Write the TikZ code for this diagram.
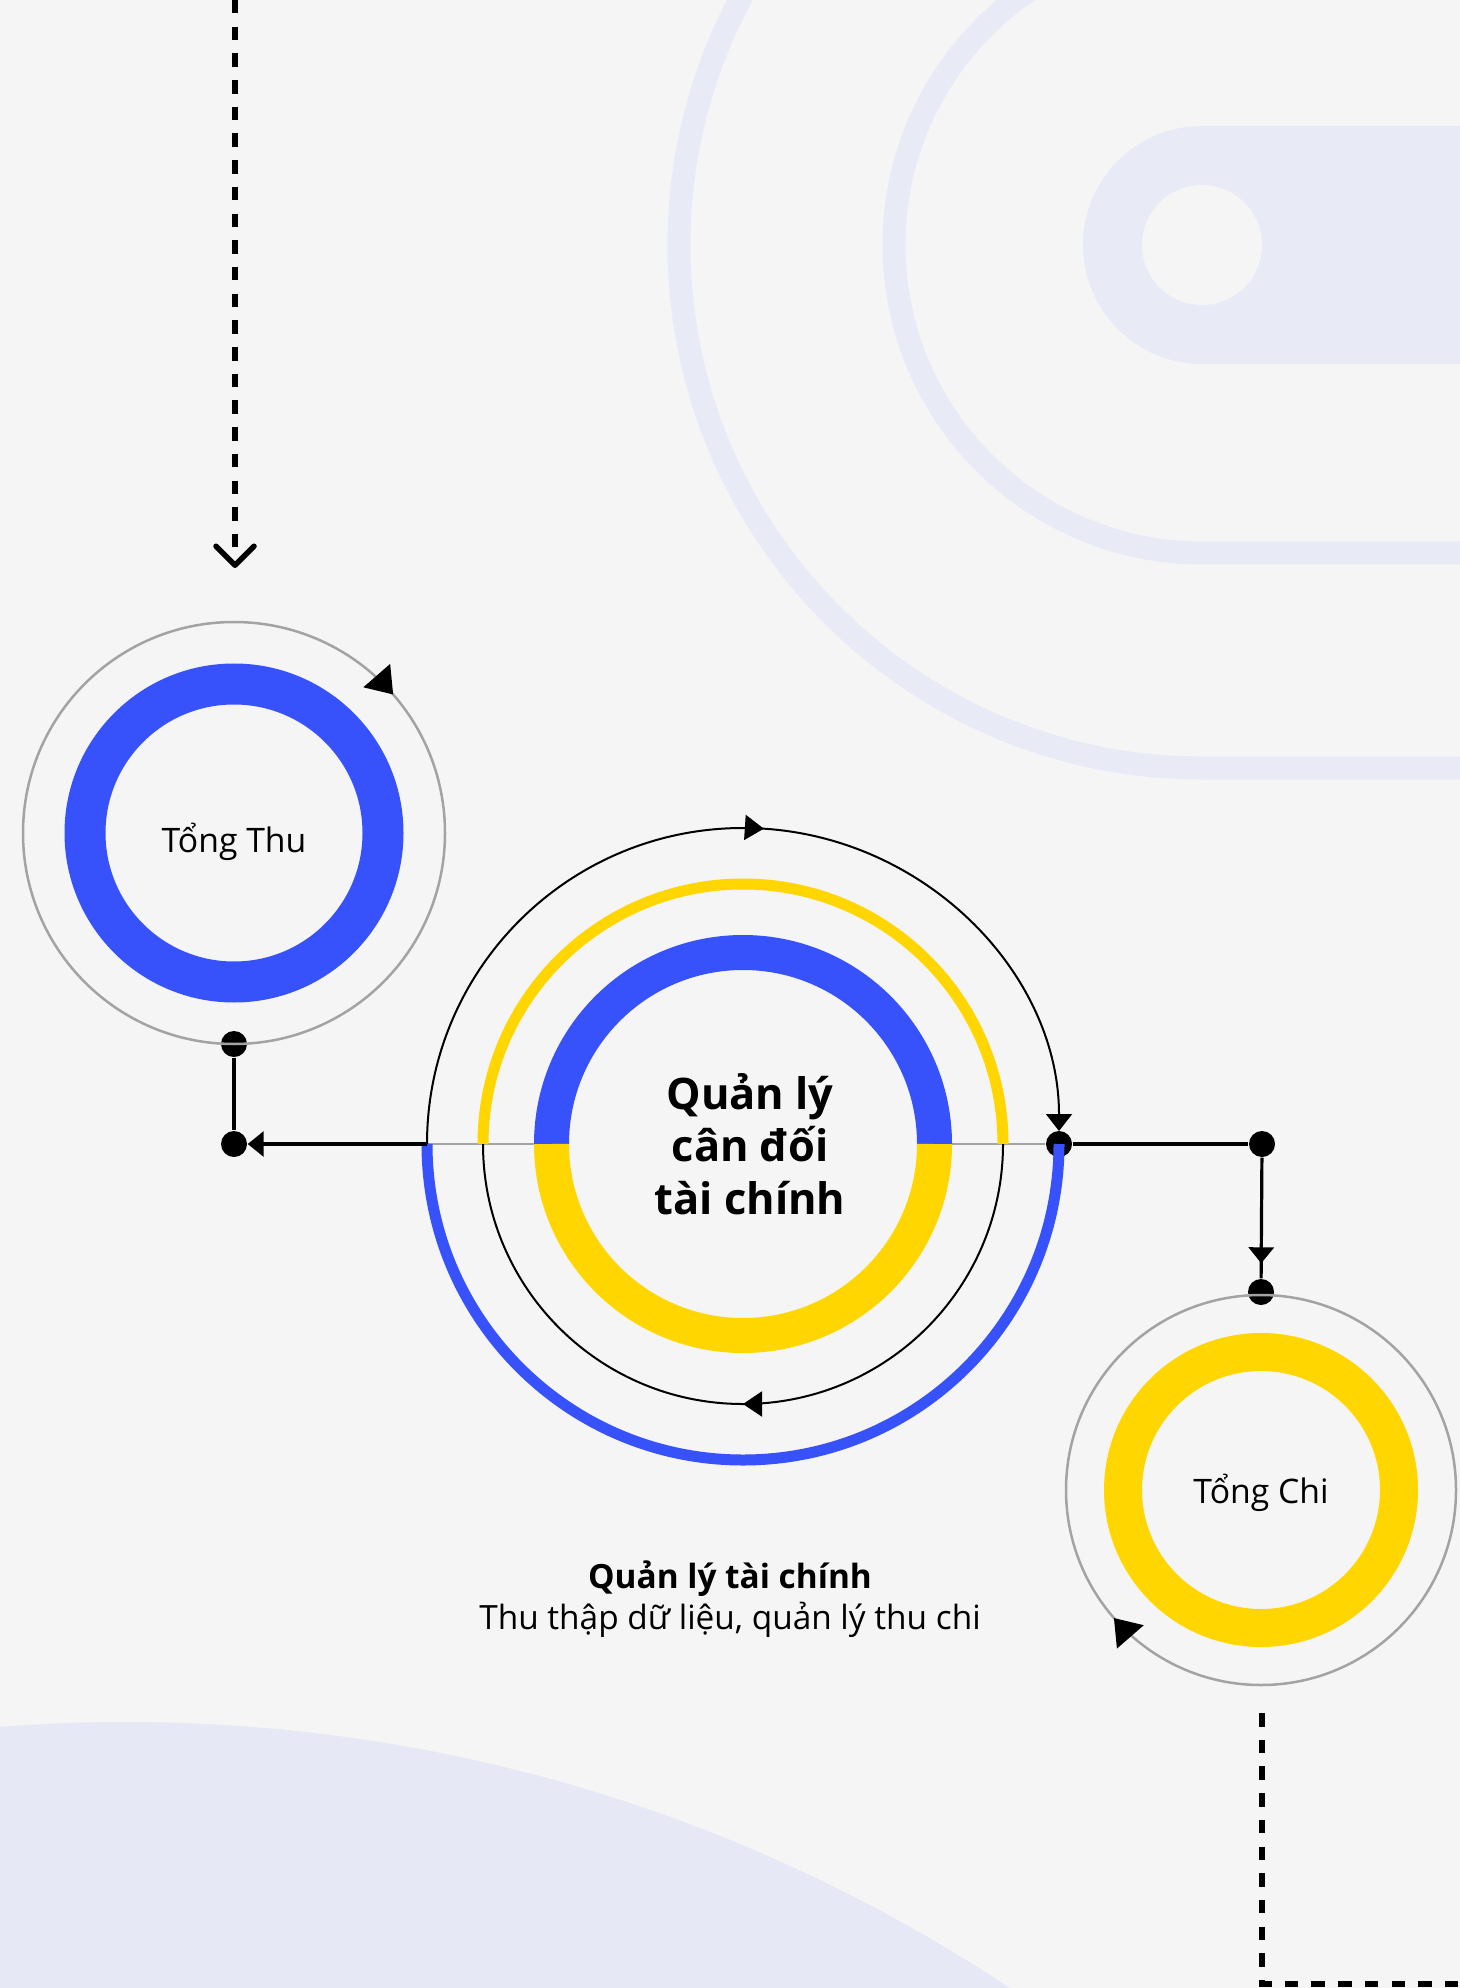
\documentclass[tikz,border=0pt]{standalone}
\usepackage{fontspec}
\setmainfont{Open Sans}
\usetikzlibrary{arrows.meta,decorations.markings,positioning}
\definecolor{bgpaper}{HTML}{F5F5F5}
\definecolor{lavender}{HTML}{E8EBF6}
\definecolor{lavenderlow}{HTML}{E6E9F5}
\definecolor{ringblue}{HTML}{3752FA}
\definecolor{ringyellow}{HTML}{FFD600}
\definecolor{ringgrey}{HTML}{A2A4A4}
\begin{document}
\begin{tikzpicture}[x=0.1mm, y=0.1mm,
    dot/.style={circle, fill=black, inner sep=0pt, minimum size=2.6mm},
    link/.style={line width=0.32mm},
    tip/.style={-{Triangle[length=1.6mm, width=2.5mm]}},
    orbit/.style={draw=ringgrey, line width=0.25mm},
    ring/.style={circle, inner sep=0pt, line width=#1},
    dashlink/.style={line width=0.55mm, dash pattern=on 1.35mm off 1.32mm},
    marktip/.style 2 args={postaction={decorate}, decoration={markings,
        mark=at position #1 with {\arrow{Triangle[#2, color=black]}}}}]
    \useasboundingbox (0,0) rectangle (1460,-1988);
    \fill[bgpaper] (0,0) rectangle (1460,-1988);
    % background shapes
    \begin{scope}
        \clip (0,0) rectangle (1460,-1988);
        \draw[lavender, line width=2.3mm] (1460,-768) -- (1202,-768) arc[start angle=270, end angle=90, radius=523];
        \draw[lavender, line width=2.3mm] (1460,-553) -- (1202,-553) arc[start angle=270, end angle=90, radius=308];
        \fill[lavender] (1460,-126) -- (1202,-126) arc[start angle=90, end angle=270, radius=119] -- (1460,-364) -- cycle;
        \fill[bgpaper] (1202,-245) circle (60);
        \fill[lavenderlow] (126,-3322) circle (1600);
    \end{scope}

    % Tong Thu
    \node[ring=4.1mm, draw=ringblue, minimum size=29.8mm] (thu) at (234,-833) {};
    \node[anchor=base, font=\fontsize{9.6}{11}\selectfont] (thuLabel) at ([yshift=-1.9mm]thu.center) {Tổng Thu};
    \node[dot] (thuDot) at (234,-1044) {};
    \node[dot] (thuCorner) at (234,-1144) {};
    \draw[orbit, marktip={0.136}{length=2.5mm, width=3.5mm}] (thu.center) ++(90:211) arc[start angle=90, end angle=-270, radius=211];

    % main circle
    \coordinate (main) at (743,-1144);
    \coordinate (mainL) at (427,-1144);
    \node[dot] (mainR) at (1059,-1144) {};
    \draw[ringgrey, line width=0.2mm] (mainL) -- (534,-1144);
    \draw[ringgrey, line width=0.2mm] (952,-1144) -- (mainR);
    \draw[ringblue, line width=3.5mm] (551.5,-1144) arc[start angle=180, end angle=0, radius=191.5];
    \draw[ringyellow, line width=3.5mm] (934.5,-1144) arc[start angle=0, end angle=-180, radius=191.5];
    \draw[ringyellow, line width=1.1mm] (483,-1144) arc[start angle=180, end angle=0, radius=260];
    \draw[line width=0.2mm, marktip={0.5}{length=1.9mm, width=2.5mm}] (1003,-1144) arc[start angle=0, end angle=-180, radius=260];
    \draw[ringblue, line width=1.1mm] (mainR.center) arc[start angle=0, end angle=-180, radius=316];
    \draw[line width=0.2mm, shorten >=1.3mm, -{Triangle[length=1.7mm, width=2.6mm]},
        marktip={0.521}{length=1.9mm, width=2.5mm}] (mainL) arc[start angle=180, end angle=0, radius=316];
    \node[align=center, font=\fontsize{12.35}{14.94}\selectfont\bfseries] (title) at (750,-1144) {Quản lý\\cân đối\\tài chính};

    % Tong Chi
    \node[ring=3.8mm, draw=ringyellow, minimum size=27.6mm] (chi) at (1261,-1490) {};
    \node[anchor=base, font=\fontsize{9.6}{11}\selectfont] (chiLabel) at ([yshift=-1.37mm]chi.center) {Tổng Chi};
    \node[dot] (chiCorner) at (1262,-1144) {};
    \node[dot] (chiDot) at (1261,-1292) {};
    \draw[orbit, marktip={0.636}{length=2.5mm, width=3.5mm}] (chi.center) ++(90:195) arc[start angle=90, end angle=-270, radius=195];

    % connectors
    \draw[link] (thuDot) -- (thuCorner);
    \draw[link, tip] (mainL) -- (thuCorner);
    \draw[link] (mainR) -- (chiCorner);
    \draw[link, marktip={-1.5mm}{length=1.6mm, width=2.5mm}] (chiCorner) -- (chiDot);

    % dashed leads
    \coordinate (topStart) at (235,0);
    \coordinate (topEnd) at (235,-568);
    \draw[dashlink, -{Straight Barb[length=1.9mm, width=3.8mm, round]}] (topStart) -- (topEnd);
    \coordinate (chiTail) at (1262,-1713);
    \coordinate (bendBR) at (1262,-1984);
    \coordinate (edgeBR) at (1460,-1984);
    \draw[dashlink] (chiTail) -- (bendBR) -- (edgeBR);

    \node[align=center, anchor=base, font=\fontsize{9.5}{11.66}\selectfont] (caption) at (730,-1629)
        {{\bfseries Quản lý tài chính}\\Thu thập dữ liệu, quản lý thu chi};
\end{tikzpicture}
\end{document}
